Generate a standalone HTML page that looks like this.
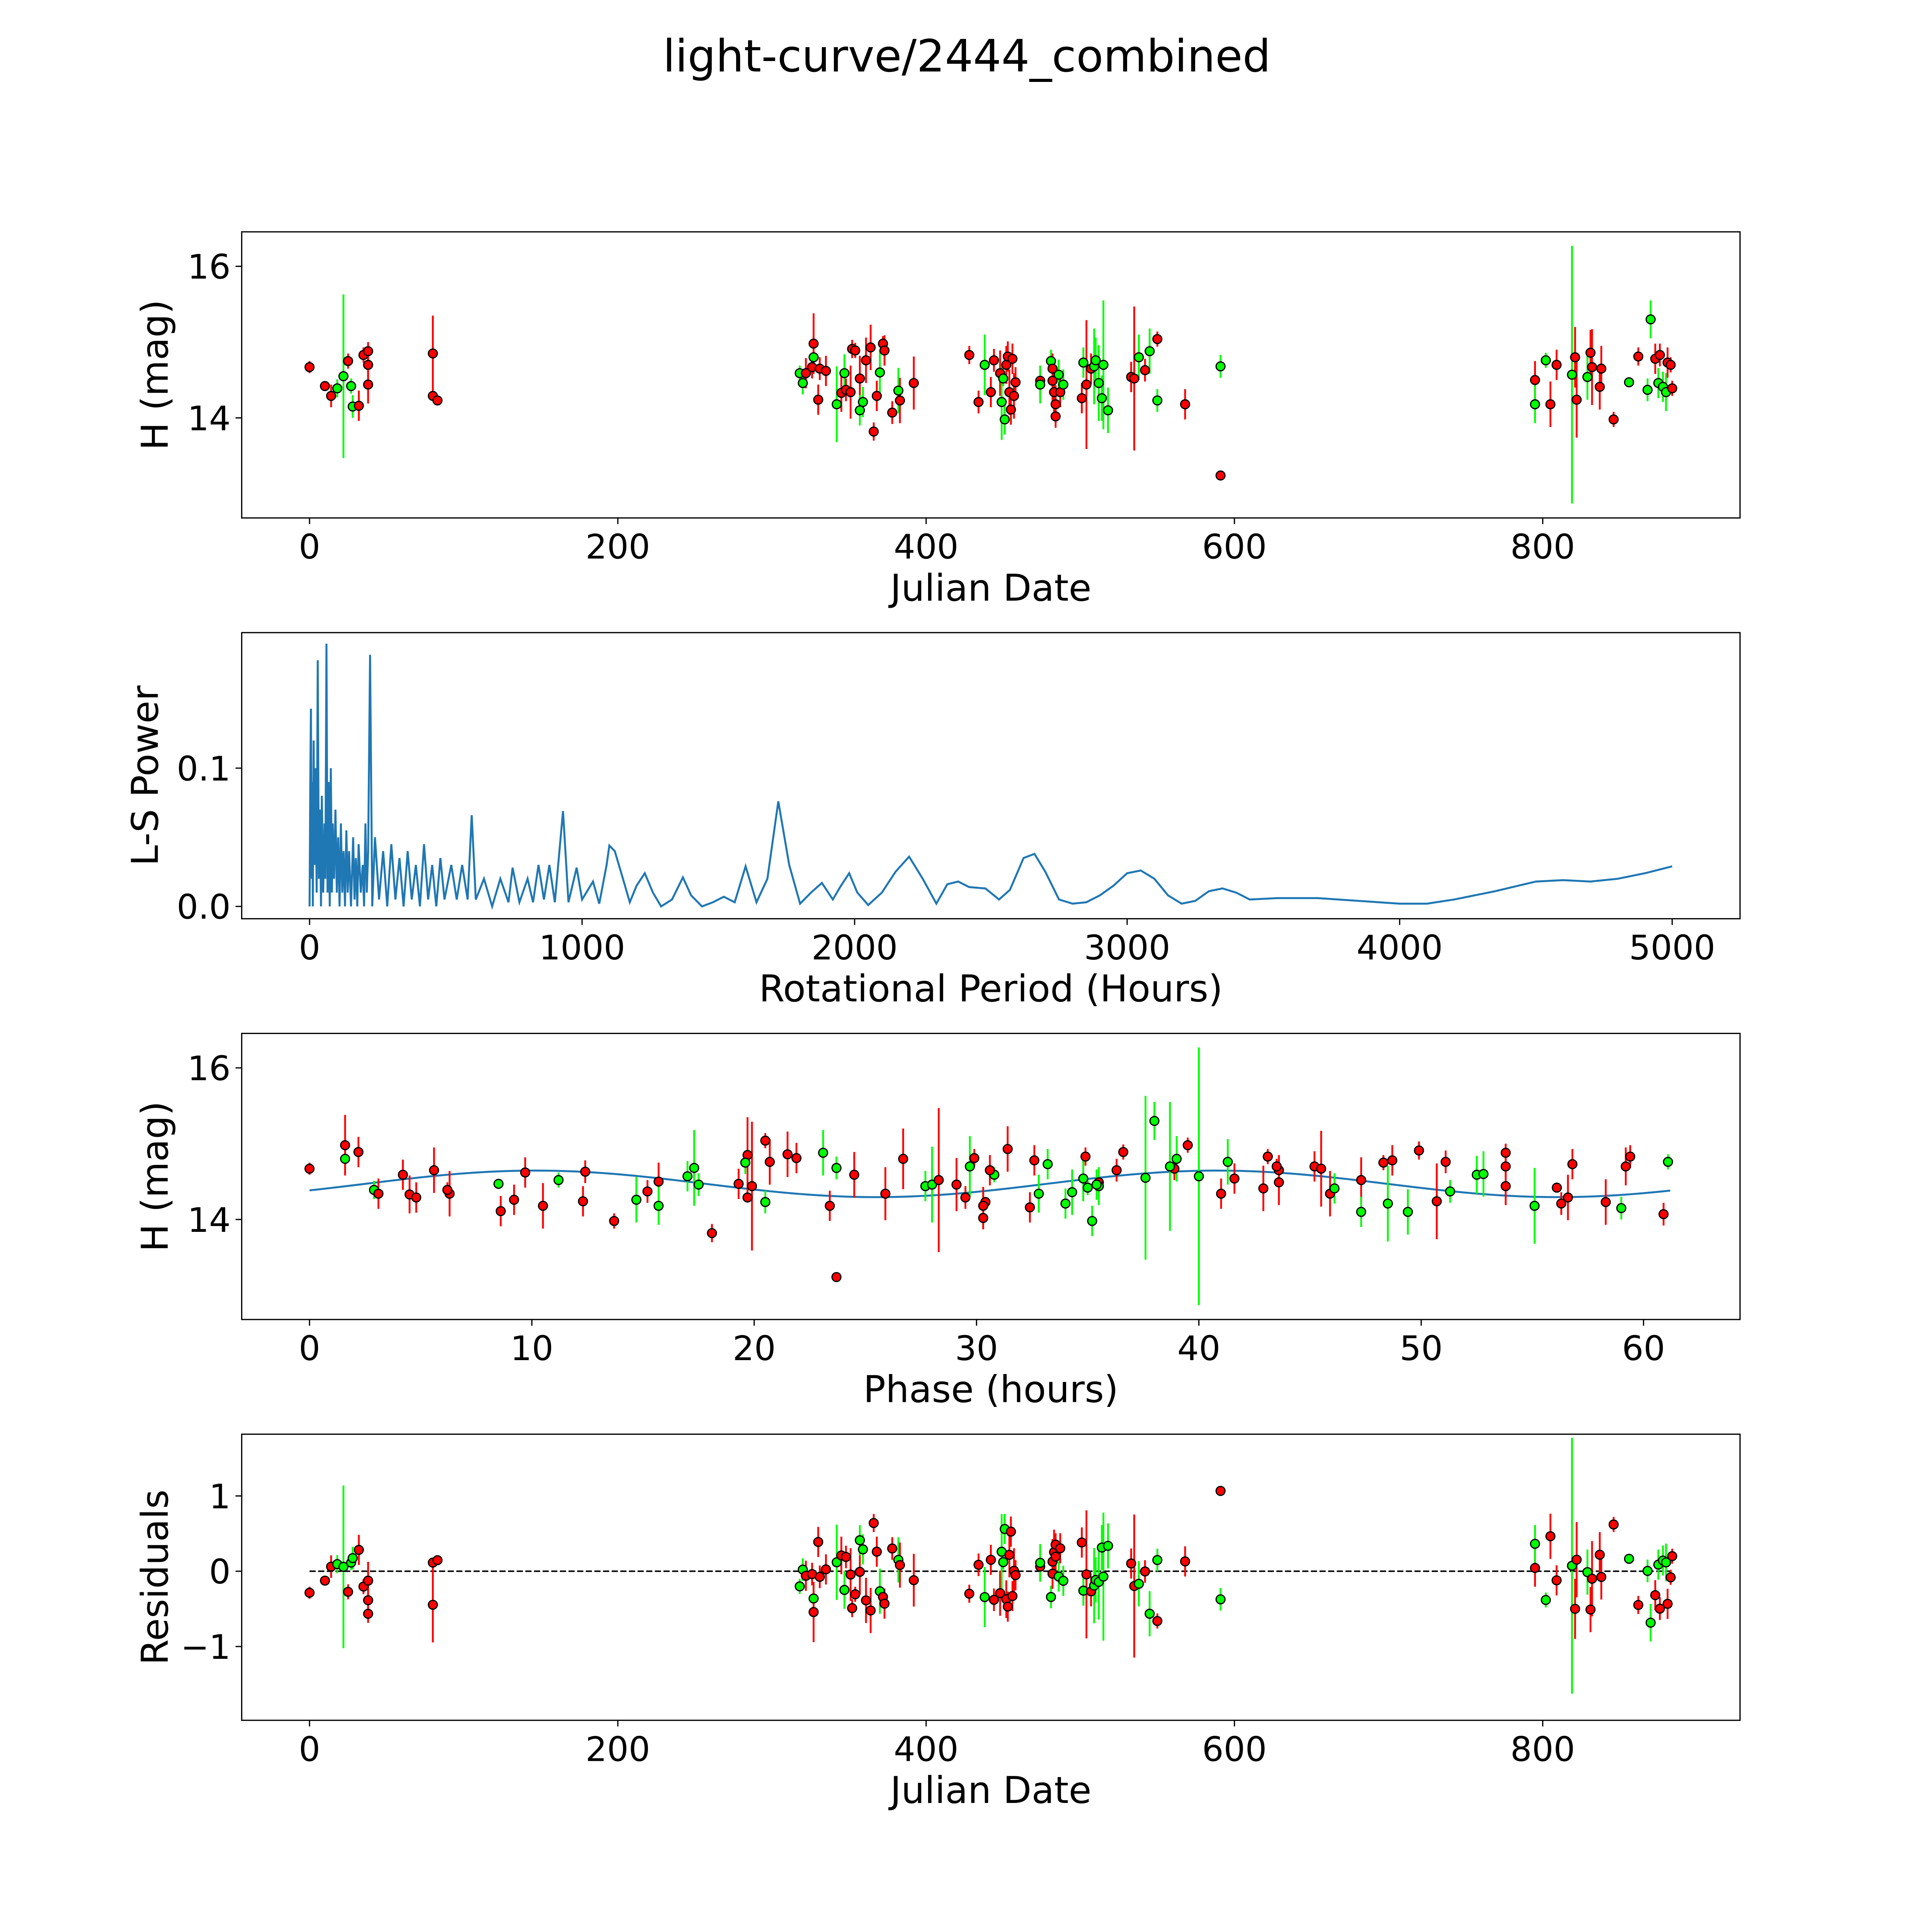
<!DOCTYPE html>
<html><head><meta charset="utf-8"><style>
html,body{margin:0;padding:0;background:#fff;overflow:hidden;width:5400px;height:5400px}
svg{display:block}
text{font-family:"DejaVu Sans","Liberation Sans",sans-serif;fill:#000}
</style></head><body>
<svg id="fig" width="5400" height="5400" viewBox="0 0 1692 1692" xmlns="http://www.w3.org/2000/svg">
<rect width="1692" height="1692" fill="#fff"/>
<text x="784" y="58" font-size="36" text-anchor="middle">light-curve/2444_combined</text>
</svg>
<script>
// observations: julian date, magnitude, error, band
const obsJD=[0,10,14,18,22,25,27,28,32,35,38,38,38,80,80,83,318,320,322,326,327,327,330,331,335,342,345,347,348,351,352,354,357,357,359,361,364,366,368,370,372,373,378,382,383,392,428,434,438,442,444,448,449,450,451,452,453,454,455,456,457,458,474,474,481,482,482,483,484,484,486,487,489,501,502,504,507,509,510,512,514,515,518,533,535,538,542,545,550,550,568,591,591,795,795,802,805,809,819,821,822,829,831,832,837,838,846,856,862,868,870,873,875,876,878,880,881,883,884];
const obsMag=[14.67,14.42,14.29,14.39,14.55,14.75,14.42,14.15,14.16,14.83,14.88,14.70,14.44,14.85,14.29,14.23,14.59,14.46,14.59,14.67,14.80,14.98,14.24,14.65,14.62,14.18,14.33,14.59,14.37,14.34,14.91,14.89,14.52,14.10,14.21,14.76,14.93,13.82,14.29,14.60,14.98,14.89,14.07,14.36,14.23,14.46,14.83,14.21,14.70,14.34,14.76,14.59,14.21,14.52,13.98,14.70,14.81,14.34,14.11,14.78,14.29,14.47,14.49,14.44,14.75,14.65,14.49,14.34,14.18,14.02,14.57,14.34,14.44,14.26,14.73,14.44,14.65,14.68,14.76,14.46,14.26,14.70,14.10,14.54,14.52,14.80,14.63,14.88,15.04,14.23,14.18,13.24,14.68,14.50,14.18,14.76,14.18,14.70,14.57,14.80,14.24,14.54,14.86,14.67,14.41,14.65,13.98,14.47,14.81,14.37,15.30,14.78,14.46,14.83,14.41,14.34,14.73,14.70,14.39];
const obsErr=[.08,.05,.15,.12,1.08,.1,.1,.15,.2,.1,.12,.15,.25,.5,.05,.05,.1,.15,.2,.15,.2,.4,.2,.15,.2,.5,.25,.25,.15,.35,.12,.1,.3,.2,.2,.3,.3,.12,.2,.3,.1,.2,.15,.3,.3,.35,.12,.15,.4,.2,.15,.3,.5,.1,.2,.25,.2,.3,.2,.2,.3,.2,.2,.25,.15,.2,.3,.3,.25,.15,.2,.2,.2,.2,.2,.85,.2,.5,.3,.5,.3,.85,.3,.2,.95,.3,.15,.3,.1,.15,.2,.05,.15,.25,.25,.1,.3,.2,1.7,.4,.5,.3,.3,.5,.3,.3,.1,.05,.12,.15,.25,.2,.2,.15,.2,.25,.2,.1,.1];
const obsBand="rrrggrggrrrrrrrr"+"ggrrgrrrrgrgrrrrrggrrrrgrrrgrr"+"rrgrrrgggrrrrrrr"+"rggrrrrrgrg"+"rgrrgggggg"+"rrgrgrgrrg"+"rggrrgrrgrrrrrgrggrgrggrrr";
// periodogram
const lsPeriod=[0,3,5,8,10,12,15,18,22,26,30,34,38,42,45,50,55,58,62,66,70,74,78,82,85,90,95,100,105,110,115,120,125,130,135,140,145,152,160,165,170,175,180,188,195,200,205,210,215,222,230,240,255,270,285,300,315,330,345,360,375,390,405,420,435,450,465,480,495,520,540,560,580,595,610,640,670,700,730,745,770,800,820,840,860,880,900,930,950,980,1000,1040,1063,1090,1100,1120,1150,1175,1200,1230,1260,1290,1330,1370,1400,1440,1480,1520,1560,1600,1640,1680,1720,1760,1800,1840,1880,1920,1950,1980,2010,2050,2100,2150,2200,2250,2300,2340,2380,2420,2480,2530,2570,2620,2660,2700,2750,2800,2850,2900,2950,3000,3050,3100,3150,3200,3250,3300,3350,3400,3450,3550,3700,3850,4000,4100,4200,4350,4500,4600,4700,4800,4900,5000];
const lsPower=[0,.1,.143,.02,.09,0,.12,.03,.1,.01,.178,.02,.07,.0,.08,.01,.06,.02,.19,.01,.09,0,.1,.01,.06,.02,.07,.01,.05,0,.06,.01,.04,.0,.055,.01,.04,0,.05,.005,.035,0,.045,.01,.03,0,.06,.01,.04,.182,0,.05,.005,.04,0,.045,.005,.035,0,.04,.005,.03,0,.045,.005,.03,0,.035,.005,.03,.005,.03,.005,.066,.005,.02,0,.02,.003,.028,.003,.02,.003,.03,.005,.03,.003,.069,.003,.028,.005,.018,.002,.03,.044,.04,.02,.003,.015,.024,.01,0,.005,.021,.008,0,.003,.007,.003,.029,.003,.02,.076,.03,.002,.01,.017,.005,.015,.024,.01,.001,.01,.025,.036,.02,.002,.016,.018,.014,.013,.005,.012,.035,.038,.025,.005,.002,.003,.008,.015,.024,.026,.02,.008,.002,.004,.011,.013,.01,.005,.006,.006,.004,.002,.002,.005,.011,.018,.019,.018,.02,.024,.029];
// fit model
const foldPeriod=61.3, fitMean=14.47, fitAmp=0.175, fitCycle=30.65, fitShift=2.5;
const xTicksJD=[0,200,400,600,800], yTicksMag=[14,16], xTicksLS=[0,1000,2000,3000,4000,5000], yTicksLS=[0,0.1], yTicksLSLabel=["0.0","0.1"], xTicksPhase=[0,10,20,30,40,50,60], yTicksRes=[-1,0,1], yTicksResLabel=["\u22121","0","1"];

const NS="http://www.w3.org/2000/svg", svg=document.getElementById('fig');
function mk(tag,attrs,parent){const e=document.createElementNS(NS,tag);for(const k in attrs)e.setAttribute(k,attrs[k]);(parent||svg).appendChild(e);return e;}
function model(ph){return fitMean+fitAmp*Math.sin(2*Math.PI*(ph-fitShift)/fitCycle);}
const phase=obsJD.map(j=>((j*24)%foldPeriod+foldPeriod)%foldPeriod);
const resid=obsMag.map((m,i)=>model(phase[i])-m);

function panel(name,top,xmin,xmax,ymin,ymax){
  const L=196,R=1411,T=top,B=top+232;
  const g=mk('g',{});
  
  
  return {g,L,R,T,B,x:v=>L+(v-xmin)/(xmax-xmin)*(R-L),y:v=>B-(v-ymin)/(ymax-ymin)*(B-T)};
}
function frame(p,xt,xl,yt,yl,xlabel,ylabel,ylx){
  const r=mk('rect',{x:p.L,y:p.T,width:p.R-p.L,height:p.B-p.T,fill:'none',stroke:'#000','stroke-width':1},p.g);
  
  
  xt.forEach((v,i)=>{const X=p.x(v);mk('line',{x1:X,x2:X,y1:p.B,y2:p.B+5,stroke:'#000'},p.g);
    const t=mk('text',{x:X,y:p.B+33,'font-size':27.5,'text-anchor':'middle'},p.g);t.textContent=xl[i];
    
    });
  yt.forEach((v,i)=>{const Y=p.y(v);mk('line',{x1:p.L-5,x2:p.L,y1:Y,y2:Y,stroke:'#000'},p.g);
    const t=mk('text',{x:p.L-9,y:Y+10,'font-size':27.5,'text-anchor':'end'},p.g);t.textContent=yl[i];
    
    });
  const xa=mk('text',{x:(p.L+p.R)/2,y:p.B+67,'font-size':30,'text-anchor':'middle'},p.g);xa.textContent=xlabel;
  
  
  const cy=(p.T+p.B)/2;
  const ya=mk('text',{x:ylx,y:cy,'font-size':30,'text-anchor':'middle',transform:`rotate(-90 ${ylx} ${cy})`},p.g);ya.textContent=ylabel;
  
  
}
function points(p,xs,ys){
  xs.forEach((xv,i)=>{const c=obsBand[i]==='g'?'#00ff00':'#ff0000';const X=p.x(xv);
    const e=mk('line',{x1:X,x2:X,y1:p.y(ys[i]-obsErr[i]),y2:p.y(ys[i]+obsErr[i]),stroke:c,'stroke-width':1.5},p.g);
    
    });
  xs.forEach((xv,i)=>{const c=obsBand[i]==='g'?'#00ff00':'#ff0000';
    const d=mk('circle',{cx:p.x(xv),cy:p.y(ys[i]),r:3.6,fill:c,stroke:'#000','stroke-width':1},p.g);
    
    });
}
// Panel 1
const p1=panel('magnitude-vs-date-panel',188,-44,928,12.68,16.455);
frame(p1,xTicksJD,xTicksJD.map(String),yTicksMag,yTicksMag.map(String),'Julian Date','H (mag)',136);
points(p1,obsJD,obsMag);
// Panel 2
const p2=panel('periodogram-panel',513,-249,5249,-0.0089,0.198);
frame(p2,xTicksLS,xTicksLS.map(String),yTicksLS,yTicksLSLabel,'Rotational Period (Hours)','L-S Power',128);
const ls=mk('polyline',{points:lsPeriod.map((v,i)=>p2.x(v)+','+p2.y(lsPower[i])).join(' '),fill:'none',stroke:'#1f77b4','stroke-width':1.6},p2.g);


// Panel 3
const p3=panel('phase-folded-panel',838,-3.05,64.34,12.68,16.455);
frame(p3,xTicksPhase,xTicksPhase.map(String),yTicksMag,yTicksMag.map(String),'Phase (hours)','H (mag)',136);
const fitPts=[];for(let k=0;k<=200;k++){const ph=61.2*k/200;fitPts.push(p3.x(ph)+','+p3.y(model(ph)));}
const fl=mk('polyline',{points:fitPts.join(' '),fill:'none',stroke:'#1f77b4','stroke-width':1.6},p3.g);


points(p3,phase,obsMag);
// Panel 4
const p4=panel('residuals-panel',1163,-44,928,-1.98,1.82);
frame(p4,xTicksJD,xTicksJD.map(String),yTicksRes,yTicksResLabel,'Julian Date','Residuals',136);
const zl=mk('line',{x1:p4.x(0),x2:p4.x(884),y1:p4.y(0),y2:p4.y(0),stroke:'#000','stroke-width':1.2,'stroke-dasharray':'5,2'},p4.g);


points(p4,obsJD,resid);
</script>
</body></html>
